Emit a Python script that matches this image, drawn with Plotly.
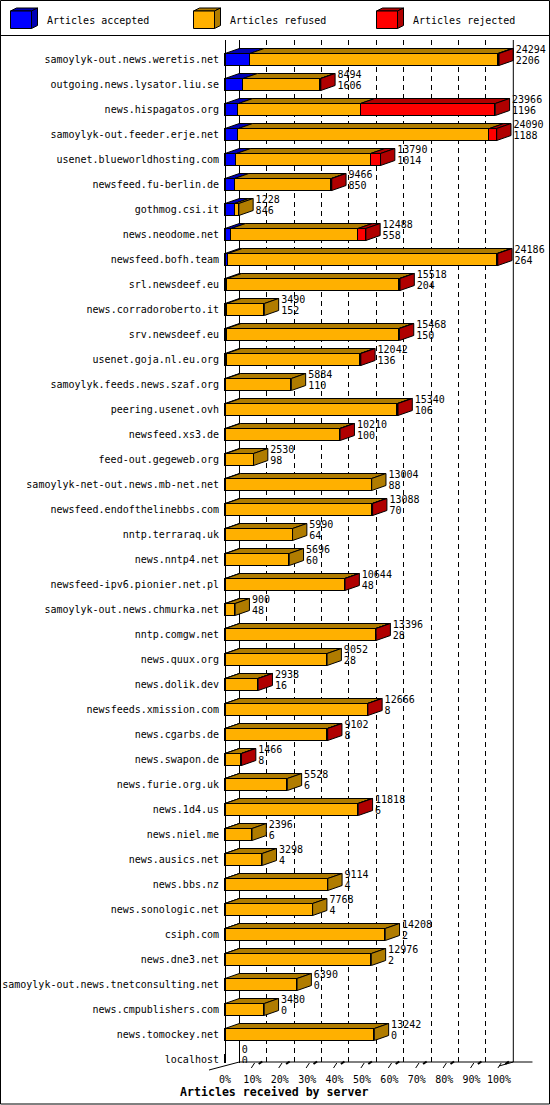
import plotly.graph_objects as go

# innfeed style chart: articles received by server (front = 0..100% of max total)
hosts = [
    "samoylyk-out.news.weretis.net", "outgoing.news.lysator.liu.se", "news.hispagatos.org",
    "samoylyk-out.feeder.erje.net", "usenet.blueworldhosting.com", "newsfeed.fu-berlin.de",
    "gothmog.csi.it", "news.neodome.net", "newsfeed.bofh.team", "srl.newsdeef.eu",
    "news.corradoroberto.it", "srv.newsdeef.eu", "usenet.goja.nl.eu.org",
    "samoylyk.feeds.news.szaf.org", "peering.usenet.ovh", "newsfeed.xs3.de",
    "feed-out.gegeweb.org", "samoylyk-net-out.news.mb-net.net", "newsfeed.endofthelinebbs.com",
    "nntp.terraraq.uk", "news.nntp4.net", "newsfeed-ipv6.pionier.net.pl",
    "samoylyk-out.news.chmurka.net", "nntp.comgw.net", "news.quux.org", "news.dolik.dev",
    "newsfeeds.xmission.com", "news.cgarbs.de", "news.swapon.de", "news.furie.org.uk",
    "news.1d4.us", "news.niel.me", "news.ausics.net", "news.bbs.nz", "news.sonologic.net",
    "csiph.com", "news.dne3.net", "samoylyk-out.news.tnetconsulting.net",
    "news.cmpublishers.com", "news.tomockey.net", "localhost",
]
total = [24294, 8494, 23966, 24090, 13790, 9466, 1228, 12488, 24186, 15518,
         3490, 15468, 12042, 5884, 15340, 10210, 2530, 13004, 13088, 5990,
         5696, 10644, 900, 13396, 9052, 2938, 12666, 9102, 1466, 5528,
         11818, 2396, 3298, 9114, 7768, 14208, 12976, 6390, 3480, 13242, 0]
accepted = [2206, 1606, 1196, 1188, 1014, 850, 846, 558, 264, 204,
            152, 150, 136, 110, 106, 100, 98, 88, 70, 64,
            60, 48, 48, 28, 28, 16, 8, 8, 8, 6,
            6, 6, 4, 4, 4, 2, 2, 0, 0, 0, 0]
rejected = [100, 30, 11950, 640, 880, 40, 0, 700, 60, 50,
            0, 50, 40, 0, 50, 40, 0, 0, 30, 0,
            0, 30, 0, 30, 0, 20, 30, 20, 20, 0,
            30, 0, 0, 0, 0, 0, 0, 0, 0, 0, 0]
refused = [t - a - r for t, a, r in zip(total, accepted, rejected)]

series = ["Articles accepted", "Articles refused", "Articles rejected"]
front_colors = ["#0000ff", "#ffb000", "#ff0000"]
dark_colors = ["#0000b4", "#b07c00", "#b00000"]

W, H = 550, 1105
PX0 = 225.0          # pixel of front 0%
PX_PER_PCT = 2.74
DX_PX, DY_PX = 14.3, 5.0
ROW0, ROW_H = 59.5, 25.0
TOP, BOT = 40.0, 1063.0
FONT = "DejaVu Sans Mono"

dxp = DX_PX / PX_PER_PCT
dyp = DY_PX / ROW_H
hh = 6.0 / ROW_H
vmax = max(total)


def pct(v):
    return v / vmax * 100.0


def px_paper(x):
    return x / W


def py_paper(y):
    return (BOT - y) / (BOT - TOP)


fig = go.Figure()

rows = list(range(len(hosts)))
seg_vals = [accepted, refused, rejected]
for k in range(3):
    fig.add_trace(go.Bar(y=rows, x=[pct(v) for v in seg_vals[k]], orientation="h",
                         width=2 * hh, name=series[k],
                         marker=dict(color=front_colors[k], line=dict(color="black", width=1)),
                         showlegend=False, hoverinfo="skip"))

# top and side faces of the bars
tops = [([], []) for _ in range(3)]
sides = [([], []) for _ in range(3)]
for i in rows:
    if total[i] == 0:
        continue
    start = 0.0
    last = 0
    for k in range(3):
        v = seg_vals[k][i]
        if v <= 0:
            continue
        x0, x1 = pct(start), pct(start + v)
        xs, ys = tops[k]
        xs += [x0, x1, x1 + dxp, x0 + dxp, x0, None]
        ys += [i - hh, i - hh, i - hh - dyp, i - hh - dyp, i - hh, None]
        start += v
        last = k
    xe = pct(total[i])
    xs, ys = sides[last]
    xs += [xe, xe, xe + dxp, xe + dxp, xe, None]
    ys += [i - hh, i + hh, i + hh - dyp, i - hh - dyp, i - hh, None]

for k in range(3):
    for xs, ys in (tops[k], sides[k]):
        if xs:
            fig.add_trace(go.Scatter(x=xs, y=ys, mode="lines", fill="toself",
                                     fillcolor=dark_colors[k],
                                     line=dict(color="black", width=1),
                                     showlegend=False, hoverinfo="skip"))

# value labels: total above, accepted below
lab_x = [pct(t) + dxp + 0.9 for t in total]
fig.add_trace(go.Scatter(x=lab_x, y=[i - 0.38 for i in rows], mode="text",
                         text=[str(t) for t in total], textposition="middle right",
                         textfont=dict(family=FONT, size=10, color="black"),
                         showlegend=False, hoverinfo="skip"))
fig.add_trace(go.Scatter(x=lab_x, y=[i + 0.06 for i in rows], mode="text",
                         text=[str(a) for a in accepted], textposition="middle right",
                         textfont=dict(family=FONT, size=10, color="black"),
                         showlegend=False, hoverinfo="skip"))

# dummy trace so the back-wall axis is drawn
fig.add_trace(go.Scatter(x=[0, 100], y=[0, 0], xaxis="x2", mode="markers",
                         marker=dict(opacity=0), showlegend=False, hoverinfo="skip"))

xr = [-PX0 / PX_PER_PCT, (W - PX0) / PX_PER_PCT]
tick_pcts = list(range(0, 101, 10))

shapes = []
# outer frame and legend separator
shapes.append(dict(type="rect", xref="paper", yref="paper",
                   x0=px_paper(0.5), x1=px_paper(549.5), y0=py_paper(0.5), y1=py_paper(1104),
                   line=dict(color="black", width=1)))
shapes.append(dict(type="line", xref="paper", yref="paper",
                   x0=0, x1=1, y0=py_paper(35.5), y1=py_paper(35.5),
                   line=dict(color="black", width=1)))
# back wall right edge, floor
shapes.append(dict(type="line", xref="x", yref="paper", x0=100 + dxp, x1=100 + dxp,
                   y0=py_paper(1062), y1=1, line=dict(color="black", width=1)))
shapes.append(dict(type="line", xref="x", yref="paper", x0=dxp, x1=100 + dxp + 7,
                   y0=py_paper(1062), y1=py_paper(1062), line=dict(color="black", width=1)))
shapes.append(dict(type="line", xref="x", yref="paper", x0=100, x1=100 + dxp,
                   y0=py_paper(1066), y1=py_paper(1062), line=dict(color="black", width=1)))
shapes.append(dict(type="line", xref="x", yref="paper", x0=-16 / PX_PER_PCT, x1=dxp,
                   y0=py_paper(1070), y1=py_paper(1062), line=dict(color="black", width=1)))
# little 3D ticks on the floor
for p in tick_pcts[1:]:
    shapes.append(dict(type="line", xref="x", yref="paper", x0=p - 0.4, x1=p + 0.8,
                       y0=py_paper(1068), y1=py_paper(1063), line=dict(color="black", width=1)))
    shapes.append(dict(type="line", xref="x", yref="paper", x0=p + 2.3, x1=p + 3.6,
                       y0=py_paper(1064), y1=py_paper(1061.5), line=dict(color="black", width=2)))

# legend boxes
annotations = []
leg_x = [10.5, 193.5, 376.5]
for k in range(3):
    x0, x1 = leg_x[k], leg_x[k] + 21
    y0, y1 = 11, 28.5
    shapes.append(dict(type="path", xref="paper", yref="paper",
                       path="M {} {} L {} {} L {} {} L {} {} Z".format(
                           px_paper(x0), py_paper(y0), px_paper(x1), py_paper(y0),
                           px_paper(x1 + 6), py_paper(y0 - 3), px_paper(x0 + 6), py_paper(y0 - 3)),
                       fillcolor=dark_colors[k], line=dict(color="black", width=1)))
    shapes.append(dict(type="path", xref="paper", yref="paper",
                       path="M {} {} L {} {} L {} {} L {} {} Z".format(
                           px_paper(x1), py_paper(y0), px_paper(x1), py_paper(y1),
                           px_paper(x1 + 6), py_paper(y1 - 3), px_paper(x1 + 6), py_paper(y0 - 3)),
                       fillcolor=dark_colors[k], line=dict(color="black", width=1)))
    shapes.append(dict(type="rect", xref="paper", yref="paper",
                       x0=px_paper(x0), x1=px_paper(x1), y0=py_paper(y1), y1=py_paper(y0),
                       fillcolor=front_colors[k], line=dict(color="black", width=1)))
    annotations.append(dict(text=series[k], xref="paper", yref="paper",
                            x=px_paper(x1 + 13), y=py_paper(20.5), xanchor="left", yanchor="middle",
                            showarrow=False, font=dict(family=FONT, size=10, color="black")))

annotations.append(dict(text="<b>Articles received by server</b>", xref="paper", yref="paper",
                        x=px_paper(274), y=py_paper(1092), xanchor="center", yanchor="middle",
                        showarrow=False, font=dict(family=FONT, size=11.6, color="black")))

fig.update_layout(
    width=W, height=H,
    margin=dict(l=0, r=0, t=TOP, b=H - BOT, pad=0),
    paper_bgcolor="white", plot_bgcolor="white",
    barmode="stack", bargap=0,
    showlegend=False,
    font=dict(family=FONT, size=10, color="black"),
    xaxis=dict(range=xr, anchor="free", position=0, showgrid=False, zeroline=False,
               showline=False, tickvals=tick_pcts, ticktext=[f"{p}%" for p in tick_pcts],
               ticks="", ticklabelstandoff=9, tickfont=dict(family=FONT, size=10)),
    xaxis2=dict(range=[xr[0] - dxp, xr[1] - dxp], overlaying="x", anchor="free", position=0,
                showticklabels=False, ticks="", tickvals=tick_pcts[1:-1],
                showgrid=True, gridcolor="black", gridwidth=1, griddash="5px,4px",
                zeroline=True, zerolinecolor="black", zerolinewidth=1, showline=False),
    yaxis=dict(range=[(BOT - ROW0) / ROW_H, (TOP - ROW0) / ROW_H], anchor="free",
               position=PX0 / W, side="left", tickvals=rows, ticktext=hosts,
               ticks="", ticklabelstandoff=4, showgrid=False, zeroline=False,
               showline=True, linecolor="black", linewidth=1,
               tickfont=dict(family=FONT, size=10)),
    shapes=shapes,
    annotations=annotations,
)

# the page gets a default 8px body margin; drop it so the chart fills the window
fig.write_html("out.html", config={"displayModeBar": False},
               post_script="document.body.style.margin='0';")
